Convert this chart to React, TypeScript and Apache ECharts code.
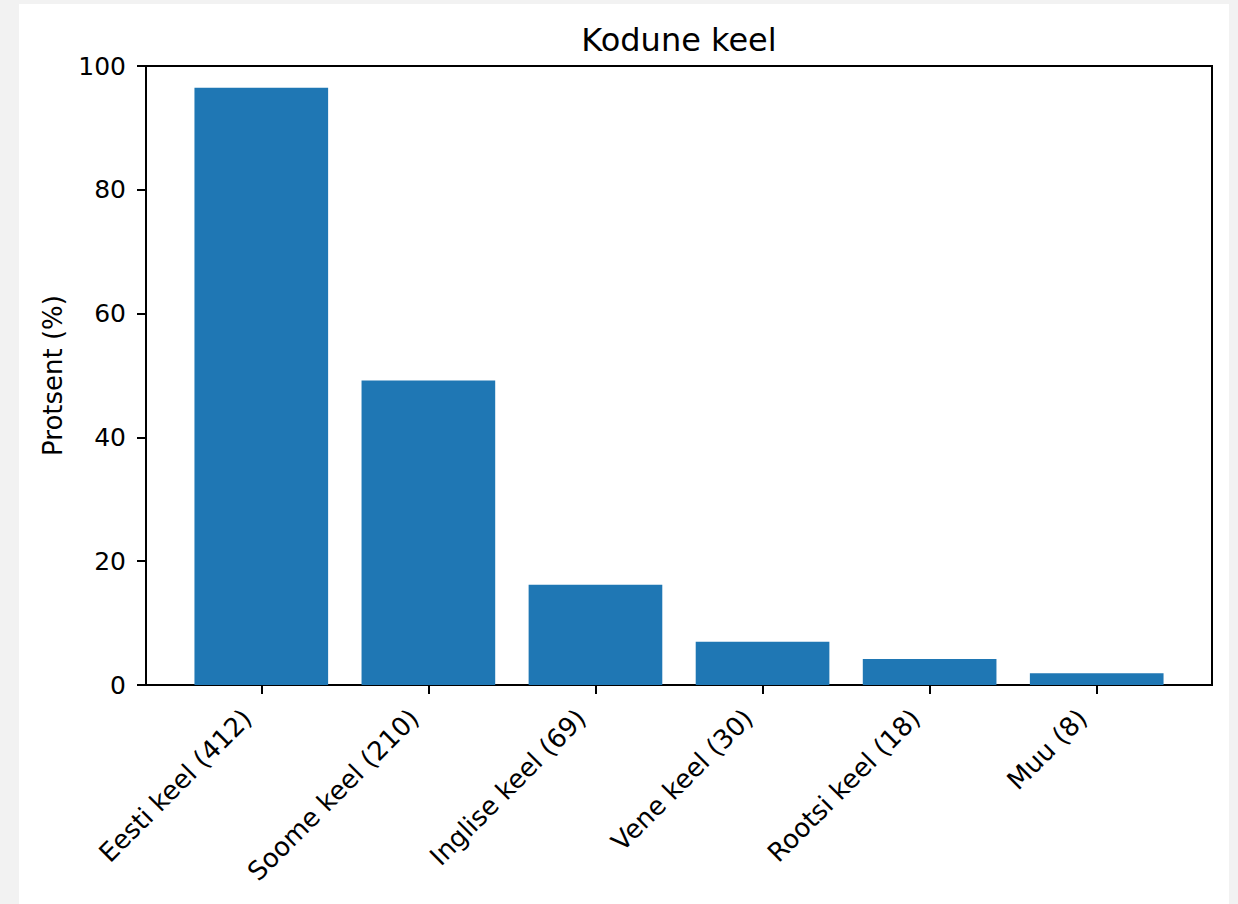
import React, { useEffect, useRef } from "react";
import * as echarts from "echarts";

const categories = [
  "Eesti keel (412)",
  "Soome keel (210)",
  "Inglise keel (69)",
  "Vene keel (30)",
  "Rootsi keel (18)",
  "Muu (8)",
];
const percentages = [96.5, 49.2, 16.2, 7.0, 4.2, 1.9];
const yTicks = [0, 20, 40, 60, 80, 100];
const titleText = "Kodune keel";
const yLabel = "Protsent (%)";

const FONT = "DejaVu Sans";
const PLOT_L = 146;
const PLOT_T = 66;
const PLOT_W = 1066;
const PLOT_H = 619;
// matplotlib x-limits: bars span -0.4..n-0.6, plus 5% margin
const n = categories.length;
const span = n - 1 + 0.8;
const xmin = -0.4 - span * 0.05;
const xmax = n - 1 + 0.4 + span * 0.05;
const unit = PLOT_W / (xmax - xmin);
const CAT_L = PLOT_L + (-0.5 - xmin) * unit;
const CAT_W = n * unit;

export default function App() {
  const ref = useRef<HTMLDivElement>(null);
  useEffect(() => {
    if (!ref.current) return;
    const chart = echarts.init(ref.current, null, { renderer: "svg" });
    chart.setOption({
      animation: false,
      backgroundColor: "transparent",
      textStyle: { fontFamily: FONT },
      graphic: [
        {
          type: "rect",
          z: -10,
          silent: true,
          shape: { x: 19, y: 4, width: 1210, height: 900 },
          style: { fill: "#ffffff" },
        },
        {
          type: "text",
          z: 10,
          x: PLOT_L + PLOT_W / 2,
          y: 56,
          style: {
            text: titleText,
            fontSize: 32,
            fontFamily: FONT,
            fill: "#000",
            align: "center",
            verticalAlign: "bottom",
          },
        },
      ],
      grid: [
        {
          left: PLOT_L,
          top: PLOT_T,
          width: PLOT_W,
          height: PLOT_H,
          show: true,
          borderColor: "#000",
          borderWidth: 2,
          backgroundColor: "transparent",
        },
        { left: CAT_L, top: PLOT_T, width: CAT_W, height: PLOT_H },
      ],
      xAxis: [
        { gridIndex: 0, type: "value", min: 0, max: 1, show: false },
        {
          gridIndex: 1,
          type: "category",
          data: categories,
          axisLine: { show: true, lineStyle: { color: "#000", width: 2 } },
          axisTick: {
            show: true,
            alignWithLabel: true,
            length: 9,
            lineStyle: { color: "#000", width: 2 },
          },
          axisLabel: {
            rotate: 45,
            interval: 0,
            margin: 33,
            padding: [0, 7, 0, 0],
            fontSize: 26,
            color: "#000",
            fontFamily: FONT,
            align: "right",
            verticalAlign: "bottom",
          },
          splitLine: { show: false },
        },
      ],
      yAxis: [
        {
          gridIndex: 0,
          type: "value",
          min: yTicks[0],
          max: yTicks[yTicks.length - 1],
          interval: yTicks[1] - yTicks[0],
          axisLine: { show: true, lineStyle: { color: "#000", width: 2 } },
          axisTick: { show: true, length: 9, lineStyle: { color: "#000", width: 2 } },
          axisLabel: { fontSize: 25, color: "#000", margin: 20, fontFamily: FONT },
          splitLine: { show: false },
          name: yLabel,
          nameLocation: "middle",
          nameGap: 80,
          nameTextStyle: { fontSize: 26, color: "#000", fontFamily: FONT },
        },
        {
          gridIndex: 1,
          type: "value",
          min: yTicks[0],
          max: yTicks[yTicks.length - 1],
          show: false,
        },
      ],
      series: [
        {
          type: "bar",
          xAxisIndex: 1,
          yAxisIndex: 1,
          data: percentages,
          barWidth: "80%",
          itemStyle: { color: "#1f77b4" },
        },
      ],
    });
    return () => chart.dispose();
  }, []);
  return (
    <div
      style={{
        position: "absolute",
        left: 0,
        top: 0,
        width: 1238,
        height: 904,
        background: "#f2f2f2",
      }}
    >
      <div ref={ref} style={{ width: 1238, height: 904 }} />
    </div>
  );
}
